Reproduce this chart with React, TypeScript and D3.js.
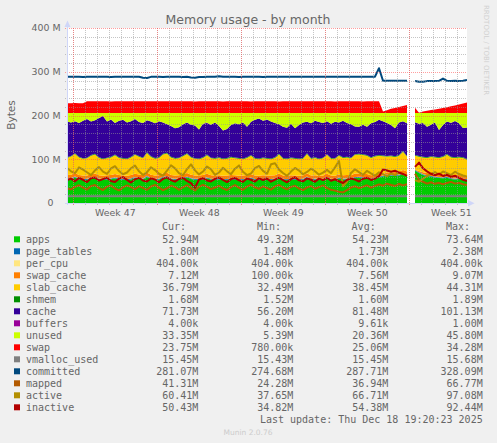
import React from "react";
import * as d3 from "d3";

// ---- time axis: one sample every 8 hours, ending at the last update ----
const END_TIME = Date.UTC(2025, 11, 18, 19, 20, 23);
const STEP_MS = 8 * 3600 * 1000;

// ---- series values in MiB (null = no data) ----
const apps = [
  54.1, 54.8, 58.5, 54.2, 53.0, 53.4, 56.1, 57.8, 53.7, 52.5,
  53.7, 54.4, 56.6, 54.2, 53.1, 52.8, 54.0, 57.2, 55.3, 53.9,
  60.0, 54.7, 53.4, 53.9, 58.1, 59.3, 54.5, 53.2, 53.6, 55.7,
  58.6, 54.8, 53.3, 53.1, 54.0, 56.8, 53.5, 53.1, 53.6, 52.7,
  52.9, 54.1, 53.4, 52.8, 52.9, 54.1, 56.0, 53.0, 52.6, 53.5,
  53.1, 53.0, 53.9, 57.7, 53.2, 52.4, 53.7, 52.9, 52.7, 53.3,
  58.4, 53.0, 53.8, 52.5, 53.4, 57.3, 53.1, 52.7, 56.2, 53.7,
  54.3, 53.6, 57.5, 57.9, 57.4, 56.5, 53.8, 55.4, 58.1, 60.5,
  63.2, 61.8, 62.4, 62.9, 66.0, 62.5, null, 73.6, 68.4, 64.2,
  61.5, 59.8, 58.3, 57.1, 56.4, 58.0, 54.6, 53.9, 54.8, 53.5,
  52.9,
];
const pageTables = [
  1.73, 1.72, 1.74, 1.73, 1.71, 1.73, 1.75, 1.73, 1.72, 1.73,
  1.74, 1.73, 1.72, 1.73, 1.74, 1.73, 1.72, 1.73, 1.75, 1.73,
  1.72, 1.73, 1.74, 1.73, 1.72, 1.73, 1.74, 1.73, 1.72, 1.73,
  1.73, 1.74, 1.73, 1.72, 1.73, 1.74, 1.73, 1.72, 1.73, 1.74,
  1.73, 1.72, 1.73, 1.74, 1.73, 1.72, 1.73, 1.74, 1.73, 1.72,
  1.73, 1.74, 1.73, 1.72, 1.73, 1.74, 1.73, 1.72, 1.73, 1.74,
  1.73, 1.72, 1.73, 1.74, 1.73, 1.72, 1.73, 1.74, 1.73, 1.72,
  1.73, 1.74, 1.73, 1.72, 1.73, 1.74, 1.73, 1.75, 1.78, 1.76,
  1.74, 1.75, 1.73, 1.74, 1.76, 1.75, null, 1.62, 1.68, 1.71,
  1.73, 1.74, 1.75, 1.76, 1.77, 1.78, 1.77, 1.78, 1.79, 1.80,
  1.80,
];
const perCpu = [
  0.404, 0.404, 0.404, 0.404, 0.404, 0.404, 0.404, 0.404, 0.404, 0.404,
  0.404, 0.404, 0.404, 0.404, 0.404, 0.404, 0.404, 0.404, 0.404, 0.404,
  0.404, 0.404, 0.404, 0.404, 0.404, 0.404, 0.404, 0.404, 0.404, 0.404,
  0.404, 0.404, 0.404, 0.404, 0.404, 0.404, 0.404, 0.404, 0.404, 0.404,
  0.404, 0.404, 0.404, 0.404, 0.404, 0.404, 0.404, 0.404, 0.404, 0.404,
  0.404, 0.404, 0.404, 0.404, 0.404, 0.404, 0.404, 0.404, 0.404, 0.404,
  0.404, 0.404, 0.404, 0.404, 0.404, 0.404, 0.404, 0.404, 0.404, 0.404,
  0.404, 0.404, 0.404, 0.404, 0.404, 0.404, 0.404, 0.404, 0.404, 0.404,
  0.404, 0.404, 0.404, 0.404, 0.404, 0.404, null, 0.404, 0.404, 0.404,
  0.404, 0.404, 0.404, 0.404, 0.404, 0.404, 0.404, 0.404, 0.404, 0.404,
  0.404,
];
const swapCache = [
  7.6, 7.6, 7.7, 7.6, 7.5, 7.6, 7.6, 7.7, 7.6, 7.6,
  7.6, 7.5, 7.6, 7.6, 7.7, 7.6, 7.6, 7.6, 7.5, 7.6,
  7.7, 7.6, 7.6, 7.6, 7.5, 7.6, 7.6, 7.7, 7.6, 7.6,
  7.6, 7.6, 7.5, 7.6, 7.6, 7.7, 7.6, 7.6, 7.6, 7.5,
  7.6, 7.6, 7.7, 7.6, 7.6, 7.6, 7.5, 7.6, 7.6, 7.7,
  7.6, 7.6, 7.6, 7.5, 7.6, 7.6, 7.7, 7.6, 7.6, 7.6,
  7.5, 7.6, 7.6, 7.7, 7.6, 7.6, 7.6, 7.5, 7.6, 7.6,
  7.7, 7.6, 7.6, 7.6, 7.5, 7.6, 7.6, 7.7, 7.6, 3.2,
  4.8, 5.9, 6.6, 7.1, 7.4, 7.6, null, 0.1, 2.4, 4.1,
  5.2, 5.8, 6.3, 6.6, 6.8, 7.0, 7.1, 7.2, 7.1, 7.2,
  7.1,
];
const slabCache = [
  39.2, 41.5, 43.8, 40.1, 38.3, 38.9, 42.2, 43.5, 39.6, 37.8,
  38.6, 39.9, 42.7, 39.1, 38.2, 37.5, 40.3, 43.1, 41.0, 38.4,
  44.3, 40.6, 37.9, 39.4, 43.2, 44.0, 39.8, 38.1, 38.7, 41.6,
  43.7, 39.5, 38.0, 37.2, 39.3, 42.5, 38.8, 38.2, 39.7, 37.6,
  38.4, 40.2, 38.9, 38.5, 37.4, 39.2, 42.3, 38.3, 37.7, 38.8,
  38.2, 37.3, 39.4, 43.6, 38.1, 37.9, 38.6, 38.4, 37.6, 38.0,
  43.9, 38.3, 39.5, 37.8, 38.9, 43.0, 38.2, 38.6, 42.1, 39.6,
  40.0, 38.7, 42.8, 43.4, 42.9, 41.8, 39.5, 40.9, 40.2, 41.2,
  35.9, 37.2, 33.9, 35.9, 41.5, 33.8, null, 32.5, 33.1, 33.6,
  34.2, 37.3, 37.3, 37.2, 39.7, 42.9, 40.2, 39.8, 40.0, 40.2,
  36.8,
];
const shmem = [
  1.60, 1.61, 1.59, 1.60, 1.62, 1.60, 1.59, 1.61, 1.60, 1.60,
  1.61, 1.60, 1.59, 1.60, 1.61, 1.60, 1.60, 1.59, 1.61, 1.60,
  1.60, 1.61, 1.60, 1.59, 1.60, 1.61, 1.60, 1.60, 1.59, 1.61,
  1.60, 1.60, 1.61, 1.60, 1.59, 1.60, 1.61, 1.60, 1.60, 1.59,
  1.61, 1.60, 1.60, 1.61, 1.60, 1.59, 1.60, 1.61, 1.60, 1.60,
  1.59, 1.61, 1.60, 1.60, 1.61, 1.60, 1.59, 1.60, 1.61, 1.60,
  1.60, 1.59, 1.61, 1.60, 1.60, 1.61, 1.60, 1.59, 1.60, 1.61,
  1.60, 1.60, 1.59, 1.61, 1.60, 1.60, 1.61, 1.60, 1.62, 1.55,
  1.57, 1.58, 1.59, 1.60, 1.61, 1.62, null, 1.52, 1.56, 1.60,
  1.62, 1.63, 1.64, 1.65, 1.66, 1.66, 1.67, 1.67, 1.68, 1.68,
  1.68,
];
const cache = [
  81.4, 76.4, 73.4, 77.4, 85.4, 88.4, 76.4, 76.4, 89.4, 97.4,
  82.4, 85.4, 72.4, 83.4, 87.4, 82.4, 81.4, 80.4, 77.4, 79.4,
  73.4, 79.4, 79.4, 82.4, 71.4, 65.4, 70.4, 68.4, 69.4, 71.4,
  70.4, 73.4, 74.4, 66.4, 76.4, 72.4, 75.4, 81.4, 71.4, 64.4,
  66.4, 72.4, 78.4, 77.4, 82.4, 69.4, 76.4, 87.4, 91.4, 84.4,
  88.4, 84.4, 78.4, 67.4, 71.4, 70.4, 77.4, 68.4, 76.4, 81.4,
  72.4, 79.4, 83.4, 83.4, 79.4, 75.4, 78.4, 83.4, 74.4, 83.4,
  77.4, 76.4, 63.4, 61.4, 67.4, 64.4, 77.4, 77.4, 80.4, 78.4,
  75.4, 69.4, 64.4, 74.4, 68.4, 74.4, null, 75.1, 73.4, 77.4,
  69.4, 72.4, 78.4, 62.4, 71.4, 74.4, 77.4, 82.4, 76.4, 66.4,
  71.73,
];
const buffers = [
  0.004, 0.004, 0.004, 0.004, 0.004, 0.004, 0.004, 0.004, 0.004, 0.004,
  0.004, 0.004, 0.004, 0.004, 0.004, 0.004, 0.004, 0.004, 0.004, 0.004,
  0.004, 0.004, 0.004, 0.004, 0.004, 0.004, 0.004, 0.004, 0.004, 0.004,
  0.004, 0.004, 0.004, 0.004, 0.004, 0.004, 0.004, 0.004, 0.004, 0.004,
  0.004, 0.004, 0.004, 0.004, 0.004, 0.004, 0.004, 0.004, 0.004, 0.004,
  0.004, 0.004, 0.004, 0.004, 0.004, 0.004, 0.004, 0.004, 0.004, 0.004,
  0.004, 0.004, 0.004, 0.004, 0.004, 0.004, 0.004, 0.004, 0.004, 0.004,
  0.004, 0.004, 0.004, 0.004, 0.004, 0.004, 0.004, 0.004, 0.004, 0.004,
  0.004, 0.004, 0.004, 0.004, 0.004, 0.004, null, 0.004, 0.004, 0.004,
  0.004, 0.004, 0.004, 0.004, 0.004, 0.004, 0.004, 0.004, 0.004, 0.004,
  0.004,
];
const unused = [
  19.8, 21.8, 18.8, 22.8, 17.8, 13.8, 19.8, 16.8, 11.8, 6.8,
  19.8, 14.8, 22.8, 17.8, 15.8, 21.8, 18.8, 13.8, 20.8, 22.8,
  16.8, 19.8, 23.8, 18.8, 21.8, 25.8, 29.8, 34.8, 32.8, 25.8,
  21.8, 26.8, 28.8, 37.8, 24.8, 22.8, 26.8, 21.8, 29.8, 39.8,
  36.8, 27.8, 23.8, 25.8, 21.8, 31.8, 19.8, 15.8, 12.8, 17.8,
  14.8, 19.8, 22.8, 25.8, 31.8, 33.8, 24.8, 34.8, 27.8, 21.8,
  19.8, 23.8, 17.8, 20.8, 22.8, 18.8, 24.8, 19.8, 21.8, 17.8,
  22.8, 25.8, 30.8, 31.8, 26.8, 31.8, 23.8, 20.8, 15.8, 18.8,
  22.8, 27.8, 34.8, 21.8, 18.8, 23.8, null, 20.8, 24.8, 22.8,
  31.8, 26.8, 21.8, 38.8, 27.8, 19.8, 22.8, 18.8, 23.8, 34.8,
  33.35,
];
const swap = [
  22.4, 22.4, 22.4, 22.4, 22.4, 26.5, 26.5, 26.6, 26.5, 26.5,
  26.5, 26.5, 26.6, 26.5, 26.5, 26.5, 26.5, 26.5, 26.6, 26.5,
  26.5, 26.5, 26.5, 26.5, 26.6, 26.5, 26.5, 26.5, 26.5, 26.5,
  26.6, 26.5, 26.5, 26.5, 26.5, 26.5, 26.6, 26.5, 26.5, 26.5,
  26.5, 26.5, 26.6, 26.5, 26.5, 26.5, 26.5, 26.5, 26.6, 26.5,
  26.5, 26.5, 26.5, 26.5, 26.6, 26.5, 26.5, 26.5, 26.5, 26.5,
  26.6, 26.5, 26.5, 26.5, 26.5, 26.5, 26.6, 26.5, 26.5, 26.5,
  26.5, 26.5, 26.6, 26.5, 26.5, 26.5, 26.5, 26.5, 26.6, 3.5,
  6.0, 9.5, 11.5, 13.5, 16.0, 18.2, null, 12.0, 0.8, 3.5,
  5.0, 6.5, 8.0, 9.5, 11.0, 13.0, 15.0, 17.0, 19.0, 21.5,
  23.75,
];
const vmallocUsed = [
  15.45, 15.45, 15.45, 15.45, 15.45, 15.45, 15.45, 15.45, 15.45, 15.45,
  15.45, 15.45, 15.45, 15.45, 15.45, 15.45, 15.45, 15.45, 15.45, 15.45,
  15.45, 15.45, 15.45, 15.45, 15.45, 15.45, 15.45, 15.45, 15.45, 15.45,
  15.45, 15.45, 15.45, 15.45, 15.45, 15.45, 15.45, 15.45, 15.45, 15.45,
  15.45, 15.45, 15.45, 15.45, 15.45, 15.45, 15.45, 15.45, 15.45, 15.45,
  15.45, 15.45, 15.45, 15.45, 15.45, 15.45, 15.45, 15.45, 15.45, 15.45,
  15.45, 15.45, 15.45, 15.45, 15.45, 15.45, 15.45, 15.45, 15.45, 15.45,
  15.45, 15.45, 15.45, 15.45, 15.45, 15.45, 15.45, 15.45, 15.45, 15.45,
  15.45, 15.45, 15.45, 15.45, 15.45, 15.45, null, 15.45, 15.45, 15.45,
  15.45, 15.45, 15.45, 15.45, 15.45, 15.45, 15.45, 15.45, 15.45, 15.45,
  15.45,
];
const committed = [
  288.5, 288.3, 288.4, 288.6, 288.2, 288.4, 288.5, 288.3, 288.6, 288.4,
  288.5, 288.2, 288.4, 288.6, 288.5, 288.3, 288.4, 288.7, 288.5, 286.4,
  285.9, 288.3, 288.4, 288.5, 288.2, 288.6, 288.4, 288.3, 288.5, 288.2,
  288.4, 286.8, 286.5, 287.9, 288.2, 288.4, 288.3, 288.6, 289.8, 288.5,
  288.4, 288.3, 288.5, 288.2, 288.4, 288.6, 288.3, 288.5, 288.4, 288.2,
  288.5, 288.4, 288.3, 288.6, 288.4, 288.5, 288.3, 288.4, 288.6, 288.5,
  288.3, 288.4, 288.5, 288.6, 288.4, 288.5, 288.3, 288.4, 288.5, 288.6,
  288.4, 288.5, 288.3, 288.4, 288.6, 288.5, 288.4, 288.7, 308.0, 279.5,
  279.6, 279.4, 279.5, 279.3, 279.6, 279.4, null, 278.9, 277.2, 277.0,
  278.6, 279.1, 278.8, 279.2, 284.5, 279.3, 279.1, 279.2, 279.0, 279.4,
  281.1,
];
const mapped = [
  33.5, 31.2, 36.8, 40.5, 35.2, 30.8, 38.6, 41.2, 34.1, 29.7,
  37.4, 39.8, 33.2, 28.9, 35.6, 40.3, 36.1, 31.5, 38.2, 34.6,
  30.2, 37.8, 41.5, 35.3, 29.4, 33.7, 39.6, 36.2, 30.5, 35.8,
  40.7, 34.1, 28.6, 36.9, 41.3, 37.2, 31.8, 35.4, 39.1, 33.6,
  29.8, 36.4, 40.9, 34.7, 30.3, 37.5, 41.8, 35.9, 32.4, 38.3,
  34.2, 30.6, 37.9, 41.1, 35.4, 31.2, 36.8, 39.5, 33.1, 29.6,
  35.7, 38.9, 32.5, 36.4, 40.2, 34.8, 30.1, 28.3, 25.8, 24.3,
  29.5, 35.6, 38.4, 33.9, 37.2, 40.6, 35.1, 38.8, 42.5, 39.6,
  44.1, 41.3, 38.7, 43.5, 40.2, 42.8, null, 66.8, 52.4, 48.6,
  44.2, 47.5, 43.8, 46.1, 42.7, 45.6, 48.2, 44.3, 46.1, 42.8,
  41.3,
];
const active = [
  80.2, 72.5, 68.1, 81.4, 76.3, 70.2, 63.8, 74.6, 82.1, 71.5,
  66.4, 78.9, 84.2, 73.1, 65.7, 69.8, 79.4, 85.6, 72.3, 64.1,
  70.5, 81.7, 75.2, 66.9, 62.4, 73.8, 86.3, 79.1, 68.2, 63.5,
  77.4, 88.2, 74.6, 65.3, 71.9, 83.5, 76.8, 64.2, 69.7, 80.6,
  72.3, 66.1, 78.5, 85.9, 71.2, 63.7, 67.4, 79.8, 84.6, 73.5,
  66.8, 88.4, 90.7, 76.3, 68.5, 62.1, 71.8, 80.2, 74.1, 65.6,
  70.9, 78.4, 72.6, 64.8, 69.3, 75.7, 68.2, 81.5, 95.8, 38.2,
  48.4, 68.7, 77.3, 70.5, 64.2, 73.6, 67.8, 62.4, 70.1, 65.8,
  61.2, 67.5, 63.8, 69.4, 66.1, 62.7, null, 52.3, 48.6, 55.4,
  61.7, 66.3, 70.8, 64.5, 72.1, 68.4, 63.9, 71.5, 66.2, 62.8,
  60.4,
];
const inactive = [
  52.4, 55.8, 49.6, 57.2, 53.1, 47.9, 56.4, 58.3, 51.2, 54.7,
  57.9, 50.3, 48.1, 55.6, 59.2, 52.8, 46.7, 54.1, 57.5, 51.4,
  49.2, 56.3, 53.7, 47.5, 55.1, 58.6, 52.3, 48.8, 54.9, 57.4,
  50.6, 45.2, 35.1, 53.8, 56.7, 51.5, 49.3, 55.2, 58.1, 52.7,
  47.8, 54.5, 57.3, 51.9, 48.4, 55.8, 53.2, 49.1, 56.4, 52.6,
  55.9, 48.7, 53.4, 57.8, 52.1, 47.3, 54.6, 58.9, 51.8, 49.5,
  56.2, 53.1, 48.6, 55.7, 52.4, 57.6, 50.8, 54.3, 49.7, 45.8,
  52.9, 56.1, 53.5, 49.2, 55.4, 57.9, 52.6, 55.8, 61.3, 76.8,
  74.2, 71.5, 73.8, 69.6, 66.4, 62.1, null, 82.5, 92.4, 79.6,
  72.3, 66.8, 63.5, 67.2, 61.8, 64.5, 59.7, 62.3, 57.4, 53.1,
  50.4,
];

// ---- legend ----
const legendNames = [
  "apps", "page_tables", "per_cpu", "swap_cache", "slab_cache", "shmem", "cache",
  "buffers", "unused", "swap", "vmalloc_used", "committed", "mapped", "active", "inactive",
];
const legendColors = [
  "#00CC00", "#0066B3", "#FFE680", "#FF8000", "#FFCC00", "#008F00", "#330099",
  "#990099", "#CCFF00", "#FF0000", "#808080", "#00487D", "#B35A00", "#B38F00", "#B30000",
];
const curValues = ["52.94M", "1.80M", "404.00k", "7.12M", "36.79M", "1.68M", "71.73M", "4.00k", "33.35M", "23.75M", "15.45M", "281.07M", "41.31M", "60.41M", "50.43M"];
const minValues = ["49.32M", "1.48M", "404.00k", "100.00k", "32.49M", "1.52M", "56.20M", "4.00k", "5.39M", "780.00k", "15.43M", "274.68M", "24.28M", "37.65M", "34.82M"];
const avgValues = ["54.23M", "1.73M", "404.00k", "7.56M", "38.45M", "1.60M", "81.48M", "9.61k", "20.36M", "25.06M", "15.45M", "287.71M", "36.94M", "66.71M", "54.38M"];
const maxValues = ["73.64M", "2.38M", "404.00k", "9.07M", "44.31M", "1.89M", "101.13M", "1.00M", "45.80M", "34.28M", "15.68M", "328.09M", "66.77M", "97.08M", "92.44M"];

const yTickValues = [0, 100, 200, 300, 400];
const yTickLabels = ["0", "100 M", "200 M", "300 M", "400 M"];
const weekLabels = ["Week 47", "Week 48", "Week 49", "Week 50", "Week 51"];

const title = "Memory usage - by month";
const yAxisTitle = "Bytes";
const lastUpdate = "Last update: Thu Dec 18 19:20:23 2025";

const areaSeries = [
  { key: "apps", values: apps, color: "#00CC00" },
  { key: "page_tables", values: pageTables, color: "#0066B3" },
  { key: "per_cpu", values: perCpu, color: "#FFE680" },
  { key: "swap_cache", values: swapCache, color: "#FF8000" },
  { key: "slab_cache", values: slabCache, color: "#FFCC00" },
  { key: "shmem", values: shmem, color: "#008F00" },
  { key: "cache", values: cache, color: "#330099" },
  { key: "buffers", values: buffers, color: "#990099" },
  { key: "unused", values: unused, color: "#CCFF00" },
  { key: "swap", values: swap, color: "#FF0000" },
];
const lineSeries = [
  { key: "vmalloc_used", values: vmallocUsed, color: "#808080" },
  { key: "committed", values: committed, color: "#00487D" },
  { key: "mapped", values: mapped, color: "#B35A00" },
  { key: "active", values: active, color: "#B38F00" },
  { key: "inactive", values: inactive, color: "#B30000" },
];

const FONT = "'DejaVu Sans', Verdana, sans-serif";
const MONO = "'DejaVu Sans Mono', monospace";
const TXT = "#666666";

export default function App() {
  const W = 497, H = 443;
  const left = 67, right = 467, top = 28, bottom = 203;
  const n = apps.length;
  const times = d3.range(n).map((i) => new Date(END_TIME - (n - 1 - i) * STEP_MS));
  const x = d3.scaleUtc().domain([times[0], times[n - 1]]).range([left, right]);
  const y = d3.scaleLinear().domain([0, 400]).range([bottom, top]);

  const rows = times.map((t, i) => {
    const r: any = { t, ok: apps[i] != null };
    areaSeries.forEach((s) => (r[s.key] = (s.values[i] as number | null) ?? 0));
    return r;
  });
  const stacked = d3.stack<any>().keys(areaSeries.map((s) => s.key))(rows);
  const area = d3
    .area<any>()
    .defined((d) => d.data.ok)
    .x((d) => x(d.data.t))
    .y0((d) => y(d[0]))
    .y1((d) => y(d[1]));

  const line = d3
    .line<[Date, number | null]>()
    .defined((d) => d[1] != null)
    .x((d) => x(d[0]))
    .y((d) => y(d[1] as number));

  const days = d3.utcDay.range(times[0], times[n - 1]);
  const weeks = d3.utcSunday.range(times[0], times[n - 1]);
  const minorY = y.ticks(20).filter((v) => v % 100 !== 0);
  const px = (v: number) => Math.round(v) + 0.5;

  const minorStroke = "rgba(150,150,150,0.55)";
  const majorStroke = "rgba(255,80,80,0.55)";

  const legendTop = 239.3;
  const rowH = 12;

  return (
    <svg
      width={W}
      height={H}
      viewBox={`0 0 ${W} ${H}`}
      style={{ position: "absolute", left: 0, top: 0, display: "block" }}
    >
      <rect x={0} y={0} width={W} height={H} fill="#F0F0F0" />
      <rect x={left} y={top} width={right - left} height={bottom - top} fill="#FFFFFF" />

      <defs>
        <clipPath id="plotClip">
          <rect x={left} y={top - 2} width={right - left} height={bottom - top + 2} />
        </clipPath>
      </defs>

      <g clipPath="url(#plotClip)">
        {stacked.map((layer, k) => (
          <path key={areaSeries[k].key} d={area(layer as any) || ""} fill={areaSeries[k].color} />
        ))}
        {lineSeries.map((s) => (
          <path
            key={s.key}
            d={line(times.map((t, i) => [t, s.values[i] as number | null])) || ""}
            fill="none"
            stroke={s.color}
            strokeWidth={2}
            strokeLinejoin="round"
          />
        ))}
      </g>

      {/* grid */}
      <g strokeDasharray="1,1" strokeWidth={1}>
        {minorY.map((v) => (
          <line key={"my" + v} x1={left - 2} x2={right} y1={px(y(v))} y2={px(y(v))} stroke={minorStroke} />
        ))}
        {days.map((d) => (
          <line key={"mx" + +d} x1={px(x(d))} x2={px(x(d))} y1={top} y2={bottom + 2} stroke={minorStroke} />
        ))}
        {yTickValues.filter((v) => v > 0).map((v) => (
          <line key={"My" + v} x1={left - 2} x2={right} y1={px(y(v))} y2={px(y(v))} stroke={majorStroke} />
        ))}
        {weeks.map((d) => (
          <line key={"Mx" + +d} x1={px(x(d))} x2={px(x(d))} y1={top} y2={bottom + 3} stroke={majorStroke} />
        ))}
      </g>

      {/* axes */}
      <line x1={left - 2} x2={470} y1={bottom + 0.5} y2={bottom + 0.5} stroke="#CFD6F8" />
      <line x1={left + 0.5} x2={left + 0.5} y1={bottom + 2} y2={24} stroke="#CFD6F8" />
      <path d={`M${left - 2.5},27 L${left + 3.5},27 L${left + 0.5},20.5 Z`} fill="#CFD6F8" />
      <path d={`M468,200 L468,206.5 L474.5,203.25 Z`} fill="#CFD6F8" />

      {/* y tick labels */}
      {yTickValues.map((v, k) => (
        <text
          key={"yl" + v}
          x={v === 0 ? 53.5 : 60.5}
          y={y(v) + 3.4}
          textAnchor="end"
          fontFamily={FONT}
          fontSize={9.4}
          fill={TXT}
        >
          {yTickLabels[k]}
        </text>
      ))}

      {/* x week labels */}
      {weeks.map((d, k) => (
        <text
          key={"wl" + k}
          x={x(new Date(+d + 3.5 * 86400000))}
          y={215.6}
          textAnchor="middle"
          fontFamily={FONT}
          fontSize={9.4}
          fill={TXT}
        >
          {weekLabels[k]}
        </text>
      ))}

      {/* title */}
      <text x={248} y={24} textAnchor="middle" fontFamily={FONT} fontSize={12.5} fill={TXT}>
        {title}
      </text>
      <text
        transform="translate(15,115) rotate(-90)"
        textAnchor="middle"
        fontFamily={FONT}
        fontSize={10.6}
        fill={TXT}
      >
        {yAxisTitle}
      </text>
      <text
        transform="translate(484,5) rotate(90)"
        fontFamily={FONT}
        fontSize={7}
        fill="#D0D0D0"
      >
        RRDTOOL / TOBI OETIKER
      </text>

      {/* legend */}
      <g fontFamily={MONO} fontSize={10} fill={TXT}>
        <text x={186} y={230.2} textAnchor="end">Cur:</text>
        <text x={281} y={230.2} textAnchor="end">Min:</text>
        <text x={375.7} y={230.2} textAnchor="end">Avg:</text>
        <text x={470} y={230.2} textAnchor="end">Max:</text>
        {legendNames.map((name, k) => {
          const cy = legendTop + k * rowH;
          return (
            <g key={name}>
              <rect x={14} y={cy - 3} width={6} height={6} fill={legendColors[k]} />
              <text x={26} y={cy + 3.5}>{name}</text>
              <text x={198.3} y={cy + 3.5} textAnchor="end">{curValues[k]}</text>
              <text x={293.3} y={cy + 3.5} textAnchor="end">{minValues[k]}</text>
              <text x={388.3} y={cy + 3.5} textAnchor="end">{avgValues[k]}</text>
              <text x={482.7} y={cy + 3.5} textAnchor="end">{maxValues[k]}</text>
            </g>
          );
        })}
        <text x={482.7} y={422.8} textAnchor="end">{lastUpdate}</text>
      </g>
      <text x={248} y={435} textAnchor="middle" fontFamily={FONT} fontSize={7.5} fill="#CCCCCC">
        Munin 2.0.76
      </text>
    </svg>
  );
}
